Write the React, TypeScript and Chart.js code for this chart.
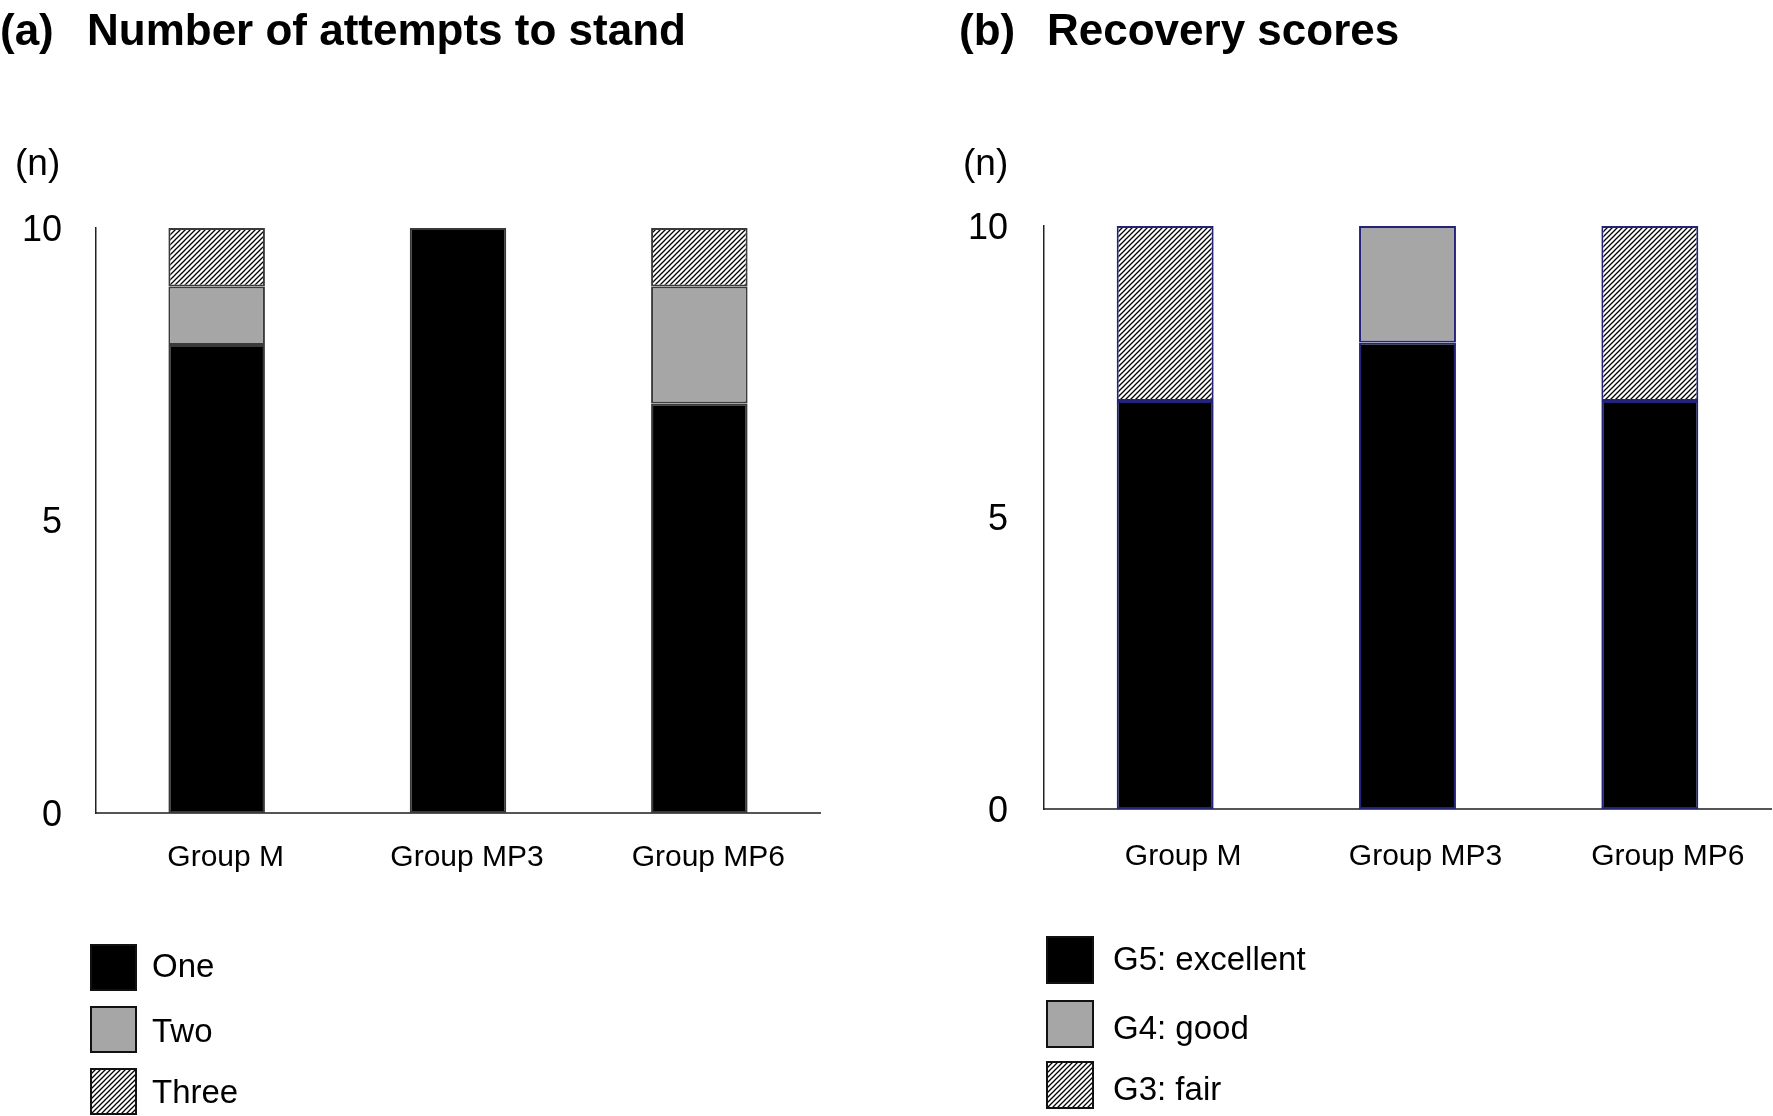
import React, { useEffect, useRef } from "react";
import { Chart, registerables } from "chart.js";

Chart.register(...registerables);

// ---------- data ----------
const groups = ["Group M", "Group MP3", "Group MP6"];
const yTicks = [0, 5, 10];
const unitLabel = "(n)";

const attemptLabels = ["One", "Two", "Three"];
const attemptsOne = [8, 10, 7];
const attemptsTwo = [1, 0, 2];
const attemptsThree = [1, 0, 1];
const titleA = ["(a)", "Number of attempts to stand"];

const recoveryLabels = ["G5: excellent", "G4: good", "G3: fair"];
const recoveryG5 = [7, 8, 7];
const recoveryG4 = [0, 2, 0];
const recoveryG3 = [3, 0, 3];
const titleB = ["(b)", "Recovery scores"];

const FONT = "'Liberation Sans', Arial, 'DejaVu Sans', sans-serif";
const W = 1773;
const H = 1116;

function makeHatch(): CanvasPattern | string {
  const s = 5;
  const c = document.createElement("canvas");
  c.width = s;
  c.height = s;
  const g = c.getContext("2d");
  if (!g) return "#888";
  g.fillStyle = "#ffffff";
  g.fillRect(0, 0, s, s);
  g.strokeStyle = "#000000";
  g.lineWidth = 1.3;
  g.beginPath();
  g.moveTo(-1, s + 1);
  g.lineTo(s + 1, -1);
  g.moveTo(-1, 1);
  g.lineTo(1, -1);
  g.moveTo(s - 1, s + 1);
  g.lineTo(s + 1, s - 1);
  g.stroke();
  const p = g.createPattern(c, "repeat");
  return p || "#888";
}

type PanelSpec = {
  left: number;
  width: number;
  title: string[];
  titleX: number[];
  unitX: number;
  labels: string[];
  values: number[][];
  fills: (string | CanvasPattern)[];
  barBorder: string;
  yAxisWidth: number;
  padRight: number;
  top: number;
  bottom: number;
  yPad: number;
  xPad: number;
  xLabelOffset: number;
  legendX: number;
  legendTops: number[];
  legendBaselines: number[];
  legendSize: number;
  legendTextX: number;
};

const overlayPlugin = {
  id: "overlayText",
  afterDraw(chart: any, _args: any, opts: any) {
    const ctx: CanvasRenderingContext2D = chart.ctx;
    ctx.save();
    ctx.fillStyle = "#000";
    ctx.textBaseline = "alphabetic";
    ctx.textAlign = "left";
    // title
    ctx.font = `bold 44px ${FONT}`;
    opts.title.forEach((t: string, i: number) => {
      ctx.fillText(t, opts.titleX[i], 45);
    });
    // unit label
    ctx.font = `37px ${FONT}`;
    ctx.fillText(opts.unit, opts.unitX, 175);
    // legend
    const ds = chart.data.datasets;
    ctx.font = `33px ${FONT}`;
    ds.forEach((d: any, i: number) => {
      const y = opts.legendTops[i];
      const s = opts.legendSize;
      ctx.fillStyle = d.backgroundColor;
      ctx.fillRect(opts.legendX, y, s, s);
      ctx.strokeStyle = "#111";
      ctx.lineWidth = 2;
      ctx.strokeRect(opts.legendX + 1, y + 1, s - 2, s - 2);
      ctx.fillStyle = "#000";
      ctx.fillText(d.label, opts.legendTextX, opts.legendBaselines[i]);
    });
    ctx.restore();
  },
};

function Panel({ spec }: { spec: PanelSpec }) {
  const ref = useRef<HTMLCanvasElement | null>(null);
  useEffect(() => {
    if (!ref.current) return;
    const chart = new Chart(ref.current, {
      type: "bar",
      data: {
        labels: groups,
        datasets: spec.labels.map((lab, i) => ({
          label: lab,
          data: spec.values[i],
          backgroundColor: spec.fills[i] as any,
          borderColor: spec.barBorder,
          borderWidth: 2,
          borderSkipped: false,
          barPercentage: 0.4,
          categoryPercentage: 1,
        })),
      },
      options: {
        responsive: false,
        animation: false,
        devicePixelRatio: 1,
        events: [],
        layout: {
          padding: {
            left: 0,
            right: spec.padRight,
            top: spec.top,
            bottom: H - spec.bottom - 80,
          },
        },
        plugins: {
          legend: { display: false },
          tooltip: { enabled: false },
          title: { display: false },
          overlayText: {
            title: spec.title,
            titleX: spec.titleX,
            unit: unitLabel,
            unitX: spec.unitX,
            legendX: spec.legendX,
            legendTops: spec.legendTops,
            legendBaselines: spec.legendBaselines,
            legendSize: spec.legendSize,
            legendTextX: spec.legendTextX,
          },
        } as any,
        scales: {
          x: {
            stacked: true,
            grid: { display: false, drawTicks: false },
            border: { display: true, color: "#555", width: 2 },
            ticks: {
              color: "#000",
              font: { family: FONT, size: 30 },
              padding: spec.xPad,
              labelOffset: spec.xLabelOffset,
              maxRotation: 0,
              autoSkip: false,
            },
            afterFit: (s: any) => {
              s.height = 80;
            },
          },
          y: {
            stacked: true,
            min: 0,
            max: 10,
            grid: { display: false, drawTicks: false },
            border: { display: true, color: "#222", width: 1.5 },
            afterBuildTicks: (s: any) => {
              s.ticks = yTicks.map((v) => ({ value: v }));
            },
            ticks: {
              color: "#000",
              font: { family: FONT, size: 36 },
              padding: spec.yPad,
              labelOffset: 3,
            },
            afterFit: (s: any) => {
              s.width = spec.yAxisWidth;
            },
          },
        },
      },
      plugins: [overlayPlugin],
    } as any);
    return () => chart.destroy();
  }, [spec]);
  return (
    <canvas
      ref={ref}
      width={spec.width}
      height={H}
      style={{
        position: "absolute",
        left: spec.left,
        top: 0,
        width: spec.width,
        height: H,
      }}
    />
  );
}

export default function App() {
  const specs = React.useMemo(() => {
    const hatch = makeHatch();
    const a: PanelSpec = {
      left: 0,
      width: 886,
      title: titleA,
      titleX: [0, 87],
      unitX: 15,
      labels: attemptLabels,
      values: [attemptsOne, attemptsTwo, attemptsThree],
      fills: ["#000000", "#a6a6a6", hatch],
      barBorder: "#3a3a3a",
      yAxisWidth: 96,
      padRight: 886 - 820,
      top: 228,
      bottom: 813,
      yPad: 34,
      xPad: 27,
      xLabelOffset: 9,
      legendX: 90,
      legendTops: [944, 1006, 1068],
      legendBaselines: [977, 1042, 1103],
      legendSize: 47,
      legendTextX: 152,
    };
    const b: PanelSpec = {
      left: 900,
      width: 873,
      title: titleB,
      titleX: [59, 147],
      unitX: 63,
      labels: recoveryLabels,
      values: [recoveryG5, recoveryG4, recoveryG3],
      fills: ["#000000", "#a6a6a6", hatch],
      barBorder: "#23237a",
      yAxisWidth: 144,
      padRight: 2,
      top: 226,
      bottom: 809,
      yPad: 36,
      xPad: 30,
      xLabelOffset: 18,
      legendX: 146,
      legendTops: [936, 1000, 1061],
      legendBaselines: [970, 1039, 1100],
      legendSize: 48,
      legendTextX: 213,
    };
    return [a, b];
  }, []);
  return (
    <div
      style={{
        position: "absolute",
        left: 0,
        top: 0,
        width: W,
        height: H,
        overflow: "hidden",
        background: "#fff",
      }}
    >
      <Panel spec={specs[0]} />
      <Panel spec={specs[1]} />
    </div>
  );
}
